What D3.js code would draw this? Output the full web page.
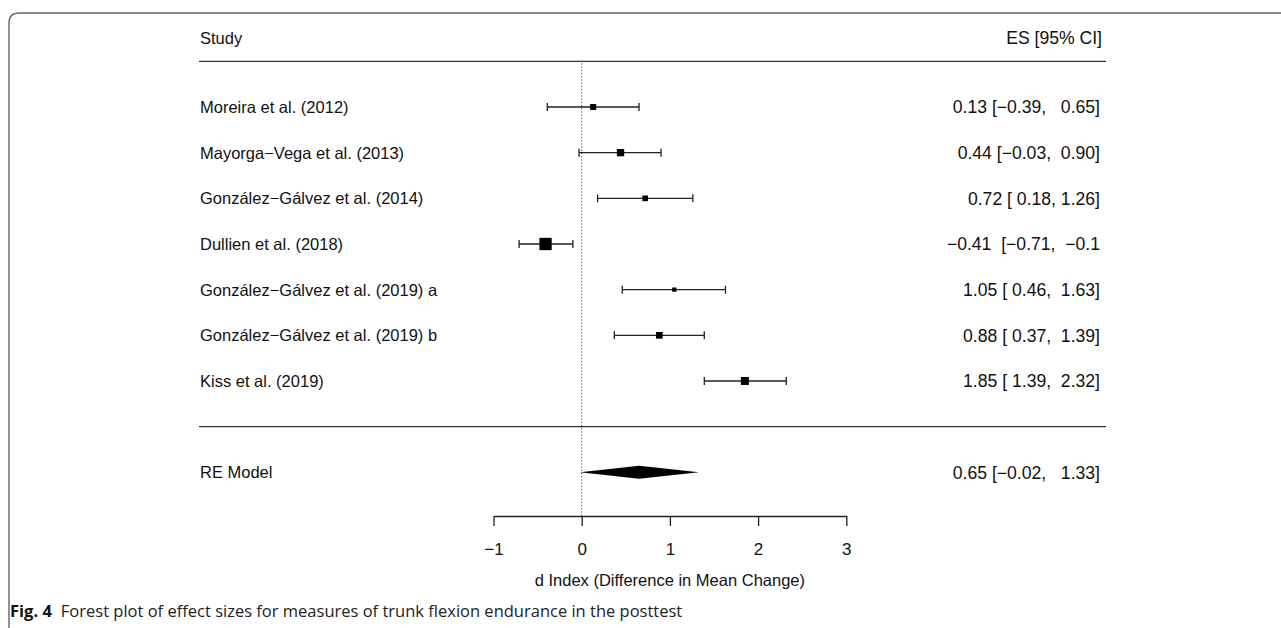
<!DOCTYPE html>
<html>
<head>
<meta charset="utf-8">
<script src="https://cdn.jsdelivr.net/npm/d3@7"></script>
<style>
  html, body { margin: 0; padding: 0; background: #fff; }
  svg { display: block; }
  .lab { font-family: "Liberation Sans", Arial, sans-serif; font-size: 16.5px; fill: #111; }
  .rcol { font-size: 17.6px; }
  .cap { font-family: "Open Sans", "Noto Sans", sans-serif; font-size: 16.5px; fill: #222; }
</style>
</head>
<body>
<svg id="chart" width="1281" height="628"></svg>
<script>
// Study rows (top to bottom)
const studies = [
  "Moreira et al. (2012)",
  "Mayorga\u2212Vega et al. (2013)",
  "Gonz\u00e1lez\u2212G\u00e1lvez et al. (2014)",
  "Dullien et al. (2018)",
  "Gonz\u00e1lez\u2212G\u00e1lvez et al. (2019) a",
  "Gonz\u00e1lez\u2212G\u00e1lvez et al. (2019) b",
  "Kiss et al. (2019)"
];
const es    = [0.13, 0.44, 0.72, -0.41, 1.05, 0.88, 1.85];
const lower = [-0.39, -0.03, 0.18, -0.71, 0.46, 0.37, 1.39];
const upper = [0.65, 0.90, 1.26, -0.10, 1.63, 1.39, 2.32];
// relative weights
const weights = [12.0, 14.5, 11.3, 24.5, 8.5, 13.3, 15.9];
// text of the right column as printed
const ciLabels = [
  "0.13 [\u22120.39,   0.65]",
  "0.44 [\u22120.03,  0.90]",
  "0.72 [ 0.18, 1.26]",
  "\u22120.41  [\u22120.71,  \u22120.1",
  "1.05 [ 0.46,  1.63]",
  "0.88 [ 0.37,  1.39]",
  "1.85 [ 1.39,  2.32]"
];
// pooled random-effects estimate
const reEst = 0.65, reLower = -0.02, reUpper = 1.33;
const reLabel = "0.65 [\u22120.02,   1.33]";
const xTicks = [-1, 0, 1, 2, 3];

const svg = d3.select("#chart");

// rounded frame (top-left corner of the figure box)
svg.append("path")
  .attr("d", "M9,628 L9,23 Q9,13 19,13 L1281,13")
  .attr("fill", "none")
  .attr("stroke", "#666")
  .attr("stroke-width", 1.4);

const x = d3.scaleLinear().domain([-1, 3]).range([493.5, 846.3]);
const k = studies.length;
// row index: k .. 1 for studies, -1 for the model
const y = d3.scaleLinear().domain([k, -1]).range([107, 472.3]);
const size = d3.scaleLinear().domain([0, d3.max(weights)]).range([0, 12.3]);

const leftX = 199, rightX = 1106, textRight = 1100;
const axisY = 516;
const ink = "#222";

// header
svg.append("text").attr("class", "lab").attr("x", 200).attr("y", 44).text("Study");
svg.append("text").attr("class", "lab rcol").attr("x", 1102).attr("y", 44)
  .attr("text-anchor", "end").text("ES [95% CI]");

// header and separator rules
[k + 1, 0].forEach(r => {
  svg.append("line")
    .attr("x1", leftX).attr("x2", rightX)
    .attr("y1", y(r)).attr("y2", y(r))
    .attr("stroke", "#333").attr("stroke-width", 1.3);
});

// reference line at 0
svg.append("line")
  .attr("x1", x(0)).attr("x2", x(0))
  .attr("y1", y(k + 1) + 2).attr("y2", axisY)
  .attr("stroke", "#444").attr("stroke-width", 1)
  .attr("stroke-dasharray", "1.2,2");

const rows = studies.map((s, i) => ({
  name: s, es: es[i], lo: lower[i], hi: upper[i], w: weights[i], ci: ciLabels[i], row: k - i
}));

const g = svg.append("g");
const rowG = g.selectAll("g.row").data(rows).join("g")
  .attr("class", "row")
  .attr("transform", d => `translate(0,${y(d.row)})`);

rowG.append("text").attr("class", "lab")
  .attr("x", 200).attr("dy", "0.36em").text(d => d.name);

rowG.append("text").attr("class", "lab rcol")
  .attr("x", textRight).attr("dy", "0.36em")
  .attr("text-anchor", "end")
  .style("white-space", "pre")
  .text(d => d.ci);

// CI whiskers
rowG.append("line")
  .attr("x1", d => x(d.lo)).attr("x2", d => x(d.hi))
  .attr("stroke", ink).attr("stroke-width", 1.3);
rowG.selectAll("line.cap")
  .data(d => [d.lo, d.hi])
  .join("line")
  .attr("class", "cap")
  .attr("x1", v => x(v)).attr("x2", v => x(v))
  .attr("y1", -4).attr("y2", 4)
  .attr("stroke", ink).attr("stroke-width", 1.3);

// point estimates
rowG.append("rect")
  .attr("x", d => x(d.es) - size(d.w) / 2)
  .attr("y", d => -size(d.w) / 2)
  .attr("width", d => size(d.w))
  .attr("height", d => size(d.w))
  .attr("fill", "#000");

// RE model
const reY = y(-1);
svg.append("text").attr("class", "lab")
  .attr("x", 200).attr("y", reY).attr("dy", "0.36em").text("RE Model");
svg.append("text").attr("class", "lab rcol")
  .attr("x", textRight).attr("y", reY).attr("dy", "0.36em")
  .attr("text-anchor", "end").style("white-space", "pre")
  .text(reLabel);
svg.append("path")
  .attr("d", `M${x(reLower)},${reY} L${x(reEst)},${reY - 6.5} L${x(reUpper)},${reY} L${x(reEst)},${reY + 6.5} Z`)
  .attr("fill", "#000");

// x axis
const axisG = svg.append("g")
  .attr("transform", `translate(0,${axisY})`)
  .call(d3.axisBottom(x).tickValues(xTicks).tickSize(10).tickSizeOuter(0).tickPadding(17)
    .tickFormat(d3.format("d")));
axisG.select(".domain").attr("stroke", ink).attr("stroke-width", 1.3);
axisG.selectAll(".tick line").attr("stroke", ink).attr("stroke-width", 1.3);
axisG.selectAll(".tick text")
  .attr("fill", "#111")
  .style("font-family", '"Liberation Sans", Arial, sans-serif')
  .style("font-size", "17px");

svg.append("text").attr("class", "lab")
  .attr("x", x(1)).attr("y", 586)
  .attr("text-anchor", "middle")
  .text("d Index (Difference in Mean Change)");

// figure caption
const cap = svg.append("text").attr("class", "cap").attr("x", 10).attr("y", 617);
cap.append("tspan").attr("font-weight", "bold").attr("fill", "#111").text("Fig. 4");
cap.append("tspan").attr("dx", 9).text("Forest plot of effect sizes for measures of trunk flexion endurance in the posttest");
</script>
</body>
</html>
